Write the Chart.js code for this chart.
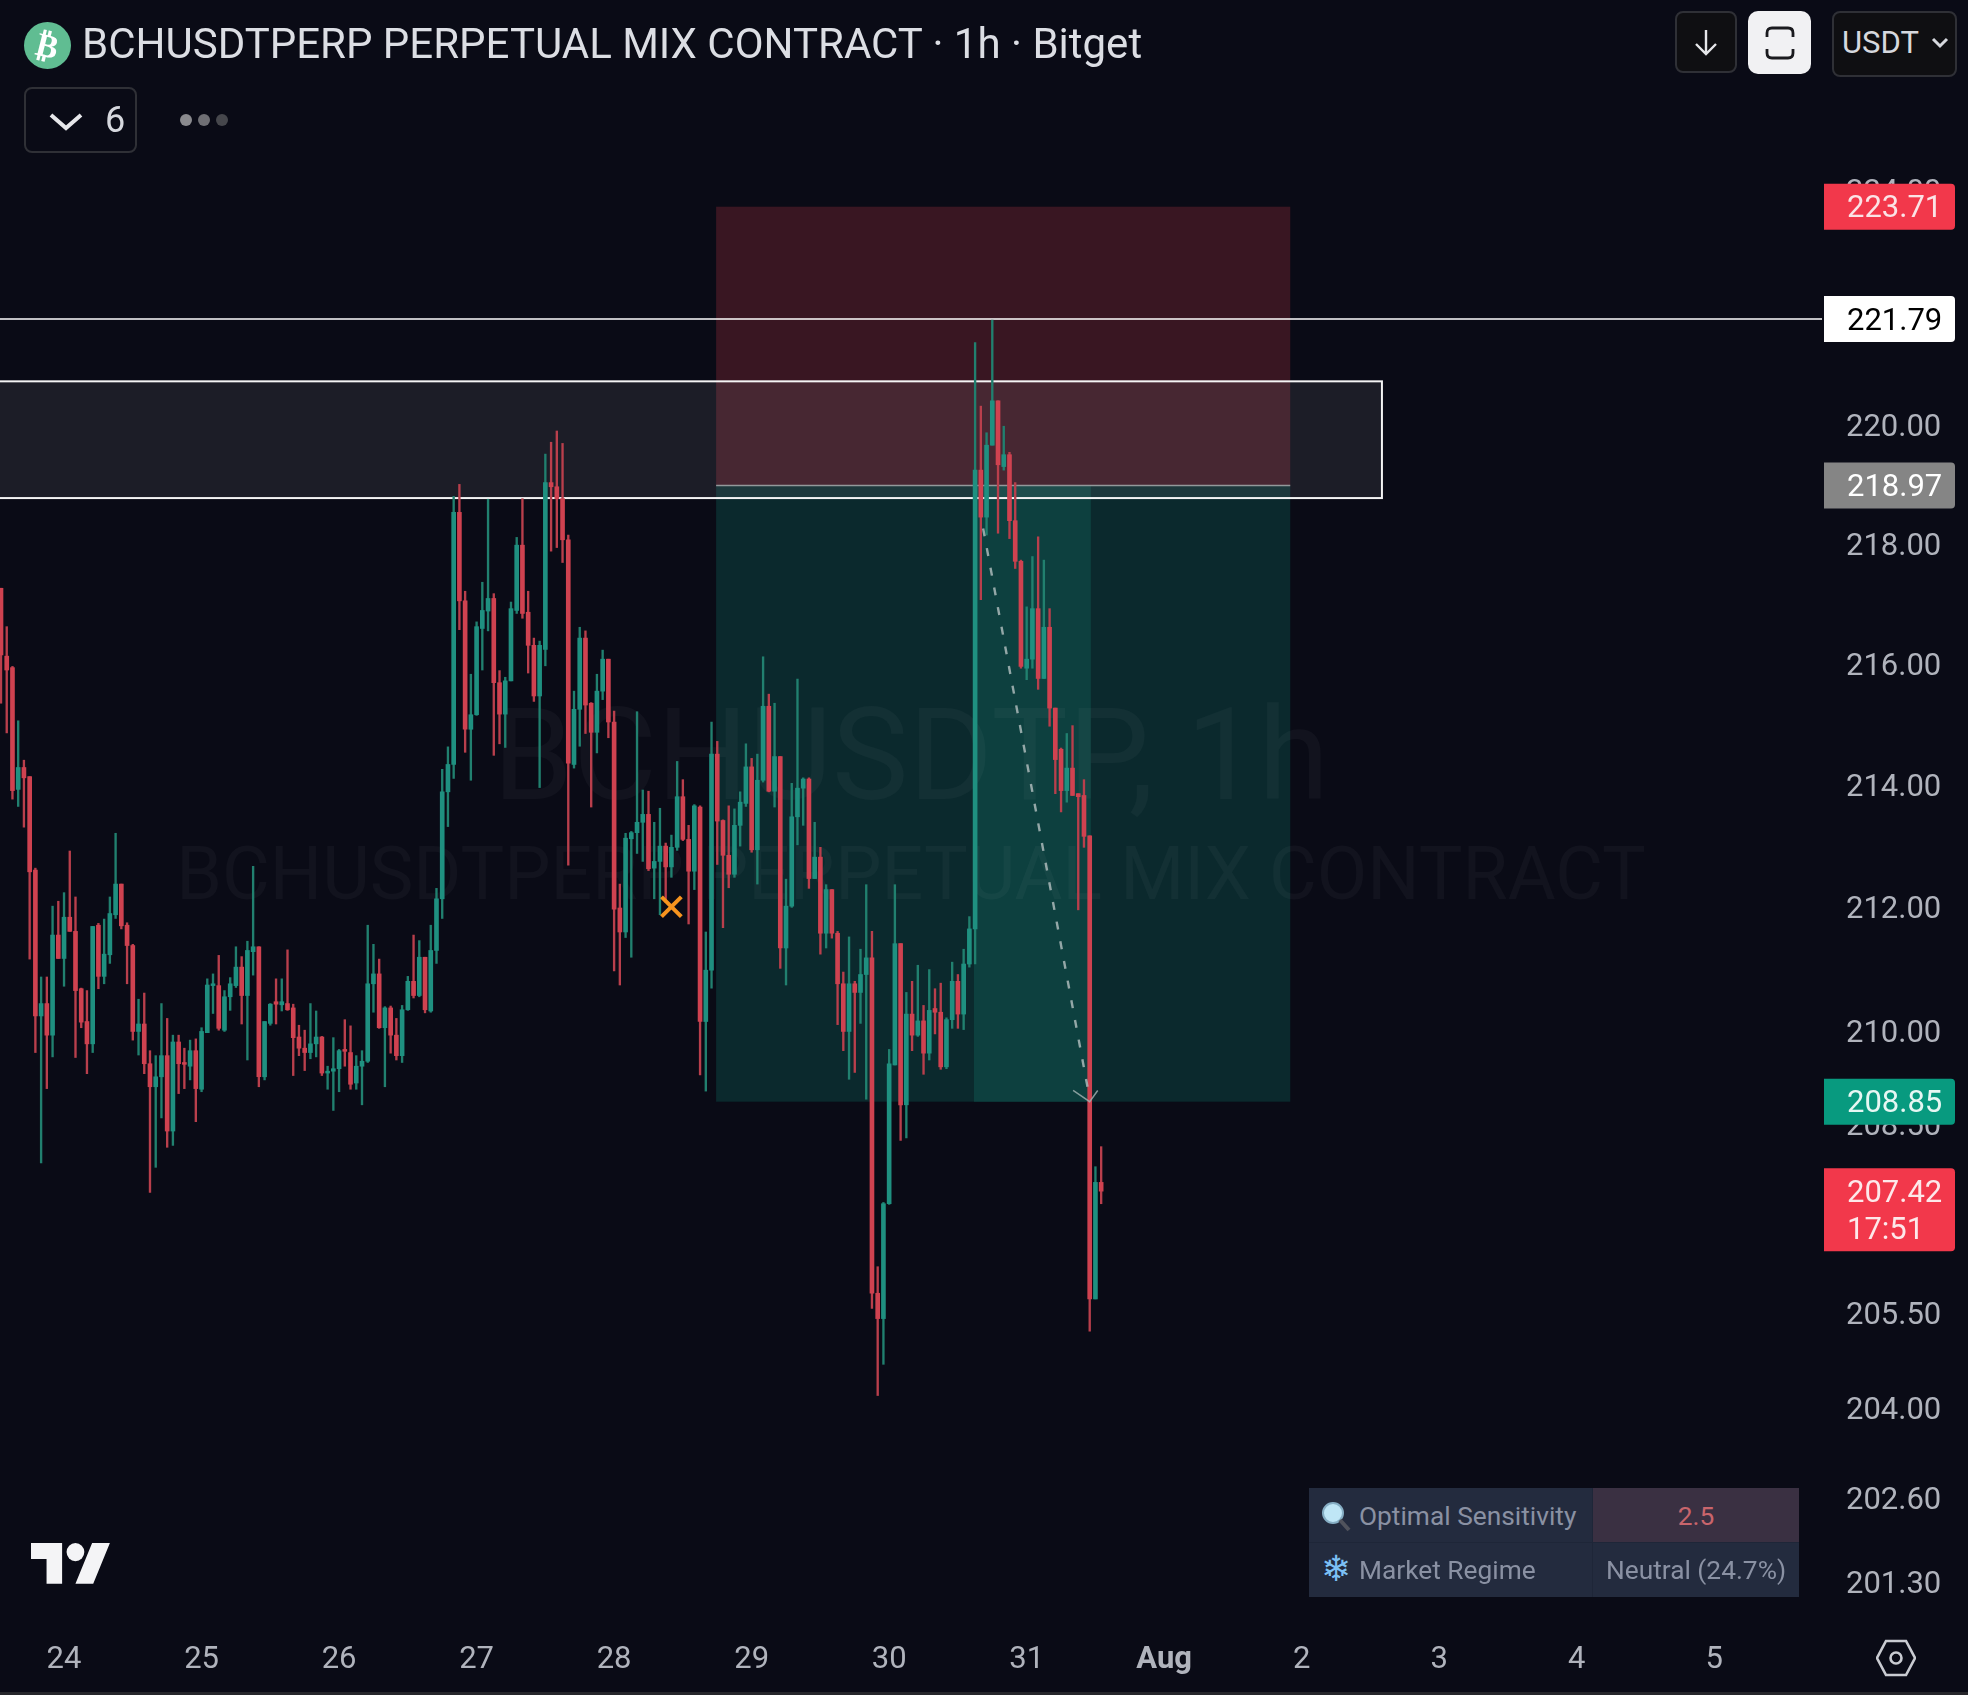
<!DOCTYPE html>
<html>
<head>
<meta charset="utf-8">
<title>BCHUSDTPERP 1h</title>
<script src="https://cdn.jsdelivr.net/npm/chart.js@4"></script>
<style>
html, body { margin: 0; padding: 0; background: #0a0b16; }
body { width: 1968px; height: 1695px; position: relative; overflow: hidden; font-family: Roboto, sans-serif; }
canvas { position: absolute; left: 0; top: 0; }
.abs { position: absolute; box-sizing: border-box; }
.title { left: 82px; top: 20px; font-size: 42px; line-height: 48px; color: #dcdee4; white-space: nowrap; }
.coin { left: 24px; top: 22px; width: 47px; height: 47px; border-radius: 50%; background: #60bd92; }
.coin span { display: block; color: #fff; font: bold 33px/47px "DejaVu Sans"; text-align: center; transform: rotate(14deg); }
.btn { border: 2px solid #2f3036; border-radius: 8px; background: #0f0f12; }
.cell { color: #8a91a3; font-size: 26.3px; line-height: 56px; white-space: nowrap; }
</style>
</head>
<body>
<canvas id="chart" width="1968" height="1695"></canvas>

<div class="abs coin"><span>₿</span></div>
<div class="abs title">BCHUSDTPERP PERPETUAL MIX CONTRACT · 1h · Bitget</div>

<div class="abs btn" style="left:24px;top:87px;width:113px;height:66px;background:none"></div>
<svg class="abs" style="left:48px;top:110px" width="36" height="22"><path d="M3 5 L18 18 L33 5" fill="none" stroke="#e6e7ea" stroke-width="4"/></svg>
<div class="abs" style="left:105px;top:98px;font-size:36px;line-height:44px;color:#d6d8de">6</div>
<svg class="abs" style="left:176px;top:110px" width="56" height="20">
  <circle cx="10" cy="10" r="6" fill="#8a8a8e"/><circle cx="28" cy="10" r="6" fill="#6f6f74"/><circle cx="46" cy="10" r="6" fill="#46474c"/>
</svg>

<div class="abs btn" style="left:1675px;top:11px;width:62px;height:62px"></div>
<svg class="abs" style="left:1690px;top:26px" width="32" height="32"><path d="M16 4 V28 M6 18 L16 28 L26 18" fill="none" stroke="#e6e7ea" stroke-width="2.4"/></svg>
<div class="abs" style="left:1748px;top:11px;width:63px;height:63px;background:#f1f1f3;border-radius:10px"></div>
<svg class="abs" style="left:1762px;top:25px" width="36" height="36">
  <path d="M5 12 V8 Q5 3 10 3 H26 Q31 3 31 8 V12 M5 24 V28 Q5 33 10 33 H26 Q31 33 31 28 V24" fill="none" stroke="#1a1a1e" stroke-width="2.8"/>
</svg>
<div class="abs btn" style="left:1832px;top:11px;width:125px;height:66px"></div>
<div class="abs" style="left:1842px;top:24px;font-size:31px;line-height:38px;color:#d6d8de">USDT</div>
<svg class="abs" style="left:1931px;top:37px" width="18" height="12"><path d="M2 2 L9 9 L16 2" fill="none" stroke="#d6d8de" stroke-width="3"/></svg>

<svg class="abs" style="left:31px;top:1543px" width="80" height="42" viewBox="0 4 36 18.5" preserveAspectRatio="none">
  <path d="M14 22H7V11H0V4h14v18zM28 22h-8l7.5-18h8L28 22z" fill="#f4f4f6"/><circle cx="20" cy="8" r="4" fill="#f4f4f6"/>
</svg>

<div class="abs" style="left:1309px;top:1488px;width:490px;height:109px;background:#1e2638"></div>
<div class="abs" style="left:1309px;top:1488px;width:283px;height:54px;background:#232b3e"></div>
<div class="abs" style="left:1593px;top:1488px;width:206px;height:54px;background:#3a3042"></div>
<div class="abs" style="left:1309px;top:1543px;width:283px;height:54px;background:#232b3e"></div>
<div class="abs" style="left:1593px;top:1543px;width:206px;height:54px;background:#232b3e"></div>
<svg class="abs" style="left:1321px;top:1501px" width="30" height="32">
  <circle cx="12" cy="12" r="10" fill="#bfe6f6" stroke="#86aec4" stroke-width="2"/>
  <path d="M19 19 L28 29" stroke="#50535c" stroke-width="4"/>
</svg>
<div class="abs cell" style="left:1359px;top:1488px">Optimal Sensitivity</div>
<div class="abs cell" style="left:1593px;top:1488px;width:206px;text-align:center;color:#c9656c">2.5</div>
<div class="abs" style="left:1321px;top:1548px;font:36px/42px 'DejaVu Sans';color:#7cc0f5">❄</div>
<div class="abs cell" style="left:1359px;top:1542px">Market Regime</div>
<div class="abs cell" style="left:1593px;top:1542px;width:206px;text-align:center">Neutral (24.7%)</div>

<svg class="abs" style="left:1876px;top:1638px" width="40" height="40">
  <path d="M10 3 H30 L39 20 L30 37 H10 L1 20 Z" fill="none" stroke="#c9cbd1" stroke-width="2.6"/>
  <circle cx="20" cy="20" r="5.5" fill="none" stroke="#c9cbd1" stroke-width="2.6"/>
</svg>
<div class="abs" style="left:0;top:1692px;width:1968px;height:3px;background:#26262b"></div>

<script>
// hourly candles (index 11 = the 24th 00:00)
const opens = [
  217.25, 216.12, 215.93, 213.92, 214.28, 214.13, 212.60, 210.23, 210.43, 209.92,
  211.54, 211.16, 211.83, 211.60, 210.67, 210.14, 209.78, 211.70, 210.87, 211.22,
  211.87, 212.37, 211.70, 211.37, 209.98, 210.10, 209.46, 209.09, 209.25, 209.59,
  208.38, 209.81, 209.48, 209.42, 209.67, 209.05, 209.96, 210.72, 210.72, 210.00,
  210.54, 210.72, 211.02, 210.56, 211.27, 211.35, 209.25, 210.11, 210.46, 210.41,
  210.43, 210.36, 209.89, 209.71, 209.64, 209.78, 209.89, 209.31, 209.34, 209.38,
  209.69, 209.64, 209.15, 209.42, 209.50, 210.75, 210.91, 210.04, 210.36, 209.92,
  209.59, 210.33, 210.79, 210.56, 211.18, 210.31, 211.29, 212.13, 213.88, 214.33,
  218.52, 217.04, 214.91, 215.15, 216.58, 216.87, 217.08, 215.68, 215.16, 215.71,
  216.88, 217.97, 216.85, 216.30, 215.46, 216.23, 219.02, 218.95, 218.75, 218.06,
  214.33, 215.24, 216.42, 215.34, 214.86, 215.54, 216.07, 215.03, 211.98, 211.59,
  213.11, 213.21, 213.38, 213.51, 212.63, 212.74, 212.99, 212.65, 212.97, 213.80,
  213.10, 212.58, 213.63, 210.14, 210.97, 214.50, 213.41, 212.84, 212.53, 213.33,
  213.69, 214.29, 212.93, 214.07, 215.29, 213.89, 214.46, 211.33, 212.01, 213.47,
  213.94, 214.09, 212.46, 212.81, 211.57, 212.28, 211.57, 210.75, 209.98, 210.75,
  210.61, 210.90, 211.17, 205.80, 205.40, 207.22, 209.44, 211.40, 208.80, 210.26,
  209.92, 210.15, 209.63, 210.35, 210.29, 209.41, 210.17, 210.79, 210.26, 211.07,
  211.64, 219.23, 218.44, 219.65, 220.40, 219.29, 219.49, 218.38, 217.70, 215.92,
  216.07, 216.91, 215.75, 216.60, 215.26, 214.58, 213.90, 214.27, 213.85, 213.82,
  213.16, 205.71, 207.56
];
const highs = [
  217.25, 216.61, 215.95, 215.05, 214.40, 214.13, 212.63, 210.86, 210.86, 212.01,
  212.09, 212.23, 212.91, 212.16, 210.68, 210.64, 211.68, 211.73, 211.80, 212.16,
  213.20, 212.37, 211.74, 211.39, 210.50, 210.60, 209.67, 209.59, 210.43, 210.19,
  209.92, 209.92, 209.71, 209.84, 209.86, 210.04, 210.83, 210.91, 211.21, 210.64,
  210.85, 211.35, 211.19, 211.44, 212.66, 211.35, 210.14, 210.43, 210.83, 210.83,
  211.30, 210.42, 210.08, 210.00, 210.43, 210.31, 209.90, 209.42, 209.88, 209.69,
  210.17, 210.07, 209.59, 209.67, 211.70, 211.39, 211.15, 210.38, 210.39, 210.19,
  210.40, 210.87, 211.54, 211.45, 211.18, 211.70, 212.30, 214.25, 214.62, 218.79,
  218.99, 217.20, 215.82, 216.69, 217.35, 218.74, 217.16, 215.88, 215.77, 217.02,
  218.10, 218.75, 217.20, 216.42, 216.37, 219.50, 219.70, 219.89, 219.68, 218.14,
  215.54, 216.60, 216.54, 215.35, 215.82, 216.22, 216.07, 215.21, 212.37, 213.20,
  213.23, 215.20, 213.91, 213.89, 213.38, 213.61, 213.04, 213.17, 214.38, 214.08,
  213.33, 213.67, 213.65, 211.59, 215.03, 214.71, 213.42, 213.65, 213.60, 213.88,
  214.67, 214.43, 214.50, 216.11, 215.49, 215.34, 214.46, 212.45, 214.02, 215.74,
  214.11, 214.11, 213.38, 212.97, 212.36, 212.28, 211.60, 210.94, 211.51, 210.79,
  211.31, 212.36, 211.60, 206.22, 207.24, 209.69, 212.36, 211.40, 210.61, 210.79,
  211.05, 210.40, 210.98, 210.67, 210.76, 210.20, 211.10, 210.90, 211.31, 211.84,
  221.39, 220.31, 219.86, 221.77, 220.40, 219.97, 219.53, 219.02, 217.72, 216.94,
  217.78, 218.11, 217.72, 216.91, 215.26, 214.60, 214.84, 214.97, 213.85, 214.08,
  213.16, 207.81, 208.13
];
const lows = [
  215.34, 214.85, 213.76, 213.64, 213.30, 211.15, 209.64, 207.87, 209.06, 209.57,
  211.16, 210.71, 211.60, 209.56, 210.04, 209.30, 209.64, 210.67, 210.75, 211.08,
  211.81, 211.64, 210.75, 209.84, 209.60, 209.30, 207.40, 207.80, 208.59, 208.12,
  208.15, 208.98, 209.06, 209.20, 208.53, 209.01, 209.96, 210.27, 210.00, 209.98,
  210.32, 210.69, 210.10, 209.52, 210.89, 209.09, 209.20, 210.08, 210.10, 210.31,
  210.32, 209.27, 209.59, 209.35, 209.54, 209.57, 209.27, 209.05, 208.71, 209.01,
  209.42, 209.05, 209.05, 208.80, 209.48, 210.29, 210.03, 209.09, 209.63, 209.52,
  209.48, 210.32, 210.52, 210.54, 210.28, 210.29, 211.08, 211.81, 213.31, 214.10,
  216.56, 214.53, 214.07, 215.14, 215.89, 216.54, 214.48, 214.67, 214.61, 215.71,
  216.83, 216.75, 215.84, 215.37, 213.95, 215.96, 217.87, 217.93, 217.68, 212.68,
  214.27, 214.63, 214.84, 213.63, 214.52, 215.40, 214.77, 210.96, 210.73, 211.50,
  211.18, 212.87, 212.74, 212.59, 212.13, 211.87, 212.07, 212.48, 212.92, 213.08,
  211.72, 212.28, 209.28, 209.02, 210.68, 212.69, 211.66, 212.31, 212.48, 212.99,
  213.64, 212.89, 212.37, 214.04, 213.88, 213.63, 211.00, 210.73, 211.99, 213.01,
  213.33, 212.30, 212.46, 211.23, 211.33, 211.49, 210.09, 209.67, 209.21, 209.32,
  210.11, 208.89, 205.56, 204.19, 204.68, 207.21, 209.44, 208.23, 208.27, 209.67,
  209.90, 209.29, 209.52, 209.94, 209.37, 209.38, 210.03, 210.03, 210.01, 211.02,
  211.07, 217.06, 218.14, 219.65, 218.17, 219.23, 218.08, 217.58, 215.92, 215.73,
  215.92, 215.57, 215.75, 214.96, 213.85, 213.55, 213.71, 213.82, 211.95, 212.97,
  205.20, 205.71, 207.22
];
const closes = [
  216.14, 215.89, 213.90, 214.28, 214.11, 212.57, 210.23, 210.43, 209.92, 211.54,
  211.16, 211.83, 211.60, 210.64, 210.13, 209.78, 211.68, 210.87, 211.23, 211.89,
  212.37, 211.69, 211.37, 209.98, 210.10, 209.46, 209.09, 209.25, 209.59, 208.38,
  209.81, 209.46, 209.45, 209.67, 209.06, 209.98, 210.73, 210.75, 210.03, 210.54,
  210.75, 211.02, 210.56, 211.29, 211.35, 209.25, 210.14, 210.42, 210.42, 210.46,
  210.33, 209.88, 209.71, 209.64, 209.78, 209.89, 209.31, 209.34, 209.38, 209.67,
  209.66, 209.13, 209.42, 209.50, 210.75, 210.91, 210.04, 210.36, 209.92, 209.59,
  210.33, 210.79, 210.56, 211.18, 210.33, 211.29, 212.13, 213.88, 214.33, 218.52,
  217.04, 214.91, 215.15, 216.61, 216.88, 217.08, 215.68, 215.16, 215.71, 216.91,
  217.97, 216.83, 216.30, 215.46, 216.30, 219.02, 218.95, 218.75, 218.06, 214.35,
  215.24, 216.42, 215.31, 214.86, 215.54, 216.07, 215.03, 211.96, 211.59, 213.12,
  213.21, 213.38, 213.51, 212.62, 212.74, 212.99, 212.65, 212.97, 213.80, 213.10,
  212.58, 213.65, 210.14, 210.97, 214.50, 213.40, 212.84, 212.53, 213.33, 213.71,
  214.29, 212.93, 214.07, 215.29, 213.89, 214.46, 211.33, 212.01, 213.47, 213.94,
  214.09, 212.46, 212.81, 211.57, 212.28, 211.57, 210.75, 209.98, 210.75, 210.61,
  210.90, 211.17, 205.80, 205.40, 207.22, 209.46, 211.40, 208.80, 210.26, 209.92,
  210.15, 209.63, 210.32, 210.29, 209.41, 210.17, 210.79, 210.26, 211.07, 211.64,
  219.23, 218.44, 219.65, 220.40, 219.32, 219.49, 218.38, 217.70, 215.95, 216.07,
  216.91, 215.75, 216.60, 215.26, 214.41, 213.90, 214.27, 213.82, 213.80, 213.15,
  205.71, 207.56, 207.42
];

const dayLabels = ['24', '25', '26', '27', '28', '29', '30', '31', 'Aug', '2', '3', '4', '5'];
const dayTicks = [11, 35, 59, 83, 107, 131, 155, 179, 203, 227, 251, 275, 299];
const priceTicks = [224, 220, 218, 216, 214, 212, 210, 208.5, 205.5, 204, 202.6, 201.3];

// long position box and the levels around it
const stopPrice = 223.71;
const entryPrice = 218.97;
const targetPrice = 208.85;
const resistance = 221.79;
const lastPrice = 207.42;
const countdown = '17:51';
const boxFrom = 124.8;
const boxTo = 225;
const liveFrom = 169.8;
const liveTo = 190.2;
const zoneTop = 220.73;
const zoneBottom = 218.76;
const zoneTo = 241;
const signalX = [117];
const signalY = [212];
const pathX = [171.4, 190];
const pathY = [218.25, 208.9];
const arrowX = [187.1, 190, 191.4];
const arrowY = [209.03, 208.85, 209.03];

const axisColor = '#b0b3bc';
const fontName = 'Roboto';
// canvas 'middle' sits about 3px above the optical centre of Roboto digits
const labelNudge = 0.99972;

const overlayPlugin = {
    id: 'overlay',
    beforeDatasetsDraw(chart) {
        const { ctx, chartArea, scales: { x, y } } = chart;
        const rect = (x1, x2, p1, p2, color) => {
            ctx.fillStyle = color;
            ctx.fillRect(x.getPixelForValue(x1), y.getPixelForValue(p1),
                x.getPixelForValue(x2) - x.getPixelForValue(x1), y.getPixelForValue(p2) - y.getPixelForValue(p1));
        };
        ctx.save();
        ctx.beginPath();
        ctx.rect(chartArea.left, chartArea.top, chartArea.width, chartArea.height);
        ctx.clip();

        // position box
        rect(boxFrom, boxTo, stopPrice, entryPrice, '#391622');
        rect(boxFrom, boxTo, entryPrice, targetPrice, '#0b292d');
        rect(liveFrom, liveTo, entryPrice, targetPrice, '#0d403f');
        ctx.strokeStyle = '#8b9092';
        ctx.lineWidth = 1.5;
        ctx.beginPath();
        ctx.moveTo(x.getPixelForValue(boxFrom), y.getPixelForValue(entryPrice));
        ctx.lineTo(x.getPixelForValue(boxTo), y.getPixelForValue(entryPrice));
        ctx.stroke();

        // watermark, shows through everything under the candles
        ctx.fillStyle = 'rgba(255,255,255,0.035)';
        ctx.textAlign = 'center';
        ctx.textBaseline = 'middle';
        ctx.font = '128.7px ' + fontName;
        ctx.fillText('BCHUSDTP, 1h', 911, 767);
        ctx.font = '73.4px ' + fontName;
        ctx.fillText('BCHUSDTPERP PERPETUAL MIX CONTRACT', 911, 881);

        // grey zone
        rect(x.min, zoneTo, zoneTop, zoneBottom, 'rgba(255,255,255,0.075)');
        ctx.strokeStyle = '#f4f4f4';
        ctx.lineWidth = 2;
        ctx.strokeRect(chartArea.left - 4, y.getPixelForValue(zoneTop),
            x.getPixelForValue(zoneTo) + 4 - chartArea.left, y.getPixelForValue(zoneBottom) - y.getPixelForValue(zoneTop));

        // resistance line
        ctx.strokeStyle = '#ffffff';
        ctx.lineWidth = 1.5;
        ctx.beginPath();
        ctx.moveTo(chartArea.left, y.getPixelForValue(resistance));
        ctx.lineTo(chartArea.right, y.getPixelForValue(resistance));
        ctx.stroke();
        ctx.restore();
    },
    afterDraw(chart) {
        const { ctx, scales: { y } } = chart;
        const tag = (price, bg, fg, extra) => {
            const py = y.getPixelForValue(price);
            const h = extra ? 83 : 46;
            ctx.fillStyle = bg;
            ctx.beginPath();
            ctx.roundRect(1824, py - 23, 131, h, [0, 4, 4, 0]);
            ctx.fill();
            ctx.fillStyle = fg;
            ctx.font = '31px ' + fontName;
            ctx.textAlign = 'left';
            ctx.textBaseline = 'middle';
            ctx.fillText(price.toFixed(2), 1847, py + 3);
            if (extra) ctx.fillText(extra, 1847, py + 40);
        };
        ctx.save();
        tag(stopPrice, '#f2384b', '#fbe3e6');
        tag(resistance, '#ffffff', '#000000');
        tag(entryPrice, '#858585', '#ffffff');
        tag(targetPrice, '#089a7f', '#e6f7f3');
        tag(lastPrice, '#f2384b', '#fde8ea', countdown);
        ctx.restore();
    }
};

const upColor = '#1f9080';
const downColor = '#cf4250';
const upWick = '#21806f';
const downWick = '#b93f4c';
const isUp = i => closes[i] >= opens[i];

// chart.js keeps room for half a tick label at the ends of each axis, the price pane has none
const noOverhang = scale => {
    scale.paddingLeft = 0;
    scale.paddingRight = 0;
    scale.paddingTop = 0;
    scale.paddingBottom = 0;
};

new Chart(document.getElementById('chart').getContext('2d'), {
    data: {
        datasets: [
            {
                type: 'line',
                data: pathX.map((v, i) => ({ x: v, y: pathY[i] })),
                borderColor: 'rgba(172,186,186,0.85)',
                borderWidth: 2.4,
                borderDash: [8, 12],
                pointRadius: 0,
                order: 0
            },
            {
                type: 'line',
                data: arrowX.map((v, i) => ({ x: v, y: arrowY[i] })),
                borderColor: 'rgba(165,180,180,0.8)',
                borderWidth: 1.5,
                pointRadius: 0,
                order: 0
            },
            {
                type: 'scatter',
                data: signalX.map((v, i) => ({ x: v, y: signalY[i] })),
                pointStyle: 'crossRot',
                pointRadius: 14,
                pointBorderWidth: 4,
                pointBorderColor: '#f7941e',
                order: 1
            },
            {
                type: 'bar',
                data: opens.map((o, i) => ({ x: i, y: [Math.min(o, closes[i]), Math.max(o, closes[i])] })),
                backgroundColor: opens.map((_, i) => isUp(i) ? upColor : downColor),
                barThickness: 4,
                minBarLength: 1.5,
                grouped: false,
                order: 2
            },
            {
                type: 'bar',
                data: opens.map((_, i) => ({ x: i, y: [lows[i], highs[i]] })),
                backgroundColor: opens.map((_, i) => isUp(i) ? upWick : downWick),
                barThickness: 1.7,
                grouped: false,
                order: 3
            }
        ]
    },
    options: {
        responsive: false,
        animation: false,
        events: [],
        layout: { padding: 0, autoPadding: false },
        plugins: { legend: { display: false }, tooltip: { enabled: false } },
        scales: {
            x: {
                type: 'linear',
                offset: false,
                min: -0.175,
                max: 317.8,
                grid: { display: false },
                border: { display: false },
                afterBuildTicks: scale => { scale.ticks = dayTicks.map(value => ({ value })); },
                afterFit: scale => { scale.height = 75; noOverhang(scale); },
                ticks: {
                    autoSkip: false,
                    maxRotation: 0,
                    padding: 14,
                    color: axisColor,
                    font: ctx => ({ family: fontName, size: 31, weight: ctx.tick && dayTicks.indexOf(ctx.tick.value) === 8 ? 'bold' : 'normal' }),
                    callback: value => dayLabels[dayTicks.indexOf(value)]
                }
            },
            y: {
                type: 'logarithmic',
                position: 'right',
                bounds: 'data',
                min: 200.7,
                max: 227.29,
                grid: { display: false },
                border: { display: false },
                afterBuildTicks: scale => { scale.ticks = priceTicks.map(value => ({ value: value * labelNudge })); },
                afterFit: scale => { scale.width = 146; noOverhang(scale); },
                ticks: {
                    autoSkip: false,
                    padding: 16,
                    color: axisColor,
                    font: { family: fontName, size: 31 },
                    callback: (value, index) => priceTicks[index].toFixed(2)
                }
            }
        }
    },
    plugins: [overlayPlugin]
});
</script>
</body>
</html>
